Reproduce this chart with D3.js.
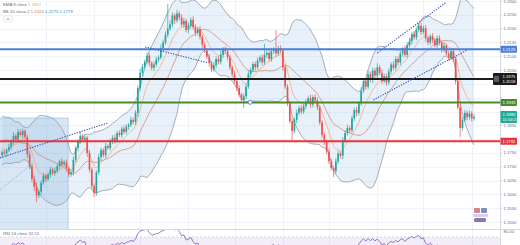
<!DOCTYPE html>
<html>
<head>
<meta charset="utf-8">
<script src="https://cdn.jsdelivr.net/npm/d3@7"></script>
<style>
html, body { margin: 0; padding: 0; background: #fff; overflow: hidden; }
svg { display: block; font-family: "Liberation Sans", Arial, sans-serif; }
</style>
</head>
<body>
<svg id="chart" width="520" height="245"></svg>
<script>
// closes before the first visible candle (only feed the indicators)
const leadIn = [1.1720, 1.1745, 1.1790, 1.1835, 1.1860, 1.1842, 1.1815, 1.1850, 1.1872, 1.1830,
    1.1805, 1.1768, 1.1790, 1.1822, 1.1795, 1.1760, 1.1738, 1.1755, 1.1742];

// daily closes
const closes = [
    1.1752, 1.1748, 1.1760, 1.1771, 1.1790, 1.1812, 1.1798, 1.1826, 1.1815, 1.1830,
    1.1808, 1.1745, 1.1702, 1.1655, 1.1628, 1.1596, 1.1610, 1.1642, 1.1668, 1.1655,
    1.1672, 1.1690, 1.1678, 1.1685, 1.1702, 1.1720, 1.1708, 1.1716, 1.1695, 1.1672,
    1.1680, 1.1725, 1.1768, 1.1790, 1.1812, 1.1798, 1.1805, 1.1750, 1.1690, 1.1630,
    1.1605, 1.1680, 1.1735, 1.1760, 1.1742, 1.1775, 1.1768, 1.1790, 1.1805, 1.1795,
    1.1822, 1.1815, 1.1838, 1.1826, 1.1845, 1.1852, 1.1870, 1.1862, 1.1895, 1.1985,
    1.2040, 1.2062, 1.2080, 1.2102, 1.2075, 1.2058, 1.2070, 1.2088, 1.2095, 1.2130,
    1.2150, 1.2178, 1.2200, 1.2215, 1.2248, 1.2230, 1.2255, 1.2240, 1.2215, 1.2228,
    1.2195, 1.2210, 1.2232, 1.2205, 1.2185, 1.2198, 1.2170, 1.2142, 1.2120, 1.2098,
    1.2075, 1.2052, 1.2068, 1.2090, 1.2080, 1.2105, 1.2125, 1.2118, 1.2096, 1.2060,
    1.2035, 1.2010, 1.1985, 1.1960, 1.1942, 1.1955, 1.1990, 1.2035, 1.2050, 1.2072,
    1.2060, 1.2085, 1.2095, 1.2078, 1.2105, 1.2112, 1.2090, 1.2118, 1.2125, 1.2110,
    1.2128, 1.2120, 1.2060, 1.1990, 1.1930, 1.1865, 1.1830, 1.1870, 1.1895, 1.1912,
    1.1900, 1.1920, 1.1935, 1.1948, 1.1925, 1.1952, 1.1940, 1.1915, 1.1860, 1.1815,
    1.1790, 1.1755, 1.1720, 1.1695, 1.1685, 1.1720, 1.1748, 1.1740, 1.1795, 1.1822,
    1.1840, 1.1832, 1.1875, 1.1905, 1.1895, 1.1930, 1.1975, 1.2010, 1.1990, 1.2035,
    1.2015, 1.2048, 1.2030, 1.2060, 1.2040, 1.2010, 1.2028, 1.2005, 1.2045, 1.2070,
    1.2058, 1.2090, 1.2078, 1.2110, 1.2125, 1.2105, 1.2140, 1.2155, 1.2180, 1.2168,
    1.2195, 1.2210, 1.2188, 1.2202, 1.2165, 1.2150, 1.2172, 1.2158, 1.2140, 1.2165,
    1.2148, 1.2125, 1.2138, 1.2110, 1.2095, 1.2118, 1.2090, 1.2010, 1.1915, 1.1840,
    1.1870, 1.1895, 1.1880, 1.1892, 1.1875, 1.1880
];

// wick lengths above / below the body, in pips
const hiWick = [
    8, 10, 6, 12, 9, 14, 7, 11, 10, 8, 6, 9, 12, 8, 10, 14, 7, 9, 11, 6,
    8, 10, 7, 12, 9, 6, 11, 8, 10, 7, 9, 12, 8, 10, 15, 7, 9, 6, 11, 8,
    10, 7, 12, 9, 8, 11, 6, 10, 9, 12, 8, 10, 7, 11, 9, 6, 12, 8, 10, 9,
    14, 10, 8, 12, 9, 7, 11, 10, 8, 13, 10, 12, 90, 15, 11, 8, 14, 9, 12, 10,
    8, 11, 9, 13, 10, 7, 12, 9, 8, 10, 11, 8, 12, 9, 10, 14, 8, 11, 9, 10,
    7, 12, 9, 10, 8, 11, 9, 12, 10, 8, 9, 11, 8, 12, 40, 10, 9, 11, 8, 70,
    10, 12, 8, 11, 9, 7, 10, 8, 12, 9, 11, 8, 10, 9, 13, 7, 10, 12, 8, 9,
    10, 8, 11, 9, 7, 12, 10, 8, 11, 9, 12, 8, 10, 9, 11, 7, 13, 10, 8, 12,
    9, 11, 10, 14, 8, 12, 9, 10, 11, 8, 12, 10, 9, 11, 8, 13, 10, 12, 9, 11,
    8, 10, 12, 9, 11, 10, 8, 12, 9, 10, 11, 9, 12, 8, 10, 9, 11, 8, 10, 12,
    9, 10, 8, 11, 9, 10
];
const loWick = [
    10, 8, 12, 7, 9, 11, 8, 10, 6, 12, 9, 14, 10, 12, 16, 24, 9, 11, 8, 10,
    7, 12, 9, 10, 8, 11, 9, 7, 12, 10, 8, 11, 9, 12, 7, 10, 8, 14, 11, 9,
    15, 10, 8, 12, 9, 11, 7, 10, 8, 12, 9, 7, 11, 8, 10, 12, 9, 8, 10, 14,
    9, 11, 8, 10, 12, 9, 11, 8, 10, 7, 12, 9, 10, 8, 11, 13, 9, 10, 8, 12,
    9, 11, 10, 8, 12, 9, 10, 11, 8, 9, 12, 10, 8, 11, 9, 10, 12, 8, 11, 9,
    10, 8, 12, 9, 11, 29, 10, 8, 12, 9, 11, 8, 10, 12, 9, 11, 8, 10, 9, 12,
    8, 10, 12, 9, 11, 9, 33, 8, 12, 9, 10, 9, 11, 8, 12, 10, 9, 11, 8, 10,
    12, 9, 10, 8, 22, 11, 9, 10, 12, 8, 9, 11, 8, 10, 12, 9, 10, 8, 11, 9,
    10, 12, 8, 11, 9, 10, 8, 12, 9, 11, 8, 10, 12, 9, 11, 8, 10, 9, 12, 8,
    10, 9, 11, 8, 12, 10, 9, 11, 8, 10, 9, 12, 10, 8, 11, 9, 10, 12, 8, 32,
    10, 8, 12, 9, 11, 8
];

const priceTicks = [1.1500, 1.1550, 1.1600, 1.1650, 1.1700, 1.1750, 1.1800, 1.1850, 1.1900,
    1.1950, 1.2000, 1.2050, 1.2100, 1.2150, 1.2200, 1.2250, 1.2300];
const gridIdx = [19, 40, 60, 81, 101, 122, 142, 163, 183, 204];

// horizontal levels drawn on the chart
const levels = [1.2125, 1.2018, 1.1933, 1.1792];
const levelColors = ["#4a7fdc", "#1b1b1b", "#4b8a2c", "#e8343a"];

// trend lines [index0, price0, index1, price1]
const trendLines = [
    [62.2, 1.2134, 89.6, 1.2076],
    [-0.9, 1.1732, 45.7, 1.1858],
    [163, 1.2112, 192.6, 1.2293],
    [161.3, 1.1942, 202.2, 1.2123]
];
const greyLine = [-0.9, 1.1616, 13.5, 1.1714];
const boxRange = [-1, 28.7, 1.1876, 1.1470];
const marker = [107.8, 1.1933];

const svg = d3.select("#chart");
const W = 520, plotRight = 500, paneBottom = 229;

const x = d3.scaleLinear().domain([0, closes.length - 1]).range([2, 474]);
const y = d3.scaleLinear().domain([1.15, 1.23]).range([222, 1]);
const rsiY = d3.scaleLinear().domain([70, 80]).range([237, 230]);
const fmt = d3.format(".4f");

// indicators
const all = leadIn.concat(closes);
const L = leadIn.length;
const bb = closes.map((c, i) => {
    const win = all.slice(i + L - 19, i + L + 1);
    const m = d3.mean(win);
    const sd = Math.sqrt(d3.mean(win, v => (v - m) * (v - m)));
    return { i, mid: m, up: m + 2 * sd, lo: m - 2 * sd };
});
let e = all[0];
const emaAll = all.map(v => (e = v * 0.2 + e * 0.8));
const ema = closes.map((c, i) => ({ i, v: emaAll[i + L] }));

let ag = 0, al = 0;
const rsiAll = all.map((v, j) => {
    if (j === 0) return null;
    const ch = v - all[j - 1];
    const g = Math.max(ch, 0), l = Math.max(-ch, 0);
    if (j <= 14) { ag += g / 14; al += l / 14; if (j < 14) return null; }
    else { ag = (ag * 13 + g) / 14; al = (al * 13 + l) / 14; }
    return 100 - 100 / (1 + ag / al);
});
const rsi = closes.map((c, i) => ({ i, v: rsiAll[i + L] }));

const candles = closes.map((c, i) => {
    const o = i === 0 ? leadIn[L - 1] : closes[i - 1];
    return { i, o, c, h: Math.max(o, c) + hiWick[i] / 1e4, l: Math.min(o, c) - loWick[i] / 1e4 };
});

const defs = svg.append("defs");
defs.append("clipPath").attr("id", "main")
    .append("rect").attr("width", plotRight).attr("height", paneBottom);
defs.append("clipPath").attr("id", "rsiClip")
    .append("rect").attr("x", 0).attr("y", paneBottom + 1).attr("width", plotRight).attr("height", 20);

// grid
const grid = svg.append("g").attr("stroke", "#f0f3fa").attr("stroke-width", 1);
grid.selectAll(".h").data(priceTicks).join("line")
    .attr("x1", 0).attr("x2", plotRight)
    .attr("y1", d => Math.round(y(d)) + 0.5).attr("y2", d => Math.round(y(d)) + 0.5);
grid.selectAll(".v").data(gridIdx).join("line")
    .attr("x1", d => Math.round(x(d)) + 0.5).attr("x2", d => Math.round(x(d)) + 0.5)
    .attr("y1", 0).attr("y2", 245);

const g = svg.append("g").attr("clip-path", "url(#main)");

// shaded box on the left
g.append("rect")
    .attr("x", x(boxRange[0])).attr("y", y(boxRange[2]))
    .attr("width", x(boxRange[1]) - x(boxRange[0]))
    .attr("height", y(boxRange[3]) - y(boxRange[2]))
    .attr("fill", "rgba(120,170,215,0.28)").attr("stroke", "#a9c8e2").attr("stroke-width", 0.8);

// bollinger bands
g.append("path")
    .attr("fill", "rgba(110,165,215,0.16)")
    .attr("d", d3.area().x(d => x(d.i)).y0(d => y(d.lo)).y1(d => y(d.up))(bb));
const line = key => d3.line().x(d => x(d.i)).y(d => y(d[key]));
g.append("path").attr("fill", "none").attr("stroke", "#8d9ca8").attr("stroke-width", 0.8).attr("d", line("up")(bb));
g.append("path").attr("fill", "none").attr("stroke", "#8d9ca8").attr("stroke-width", 0.8).attr("d", line("lo")(bb));
g.append("path").attr("fill", "none").attr("stroke", "#c98468").attr("stroke-width", 0.7).attr("d", line("mid")(bb));
g.append("path").attr("fill", "none").attr("stroke", "#f3ad78").attr("stroke-width", 0.8).attr("d", line("v")(ema));

// candles
const cg = g.append("g");
cg.selectAll("line").data(candles).join("line")
    .attr("x1", d => x(d.i)).attr("x2", d => x(d.i))
    .attr("y1", d => y(d.h)).attr("y2", d => y(d.l))
    .attr("stroke", d => d.c >= d.o ? "#26a69a" : "#ef5350").attr("stroke-width", 0.7);
cg.selectAll("rect").data(candles).join("rect")
    .attr("x", d => x(d.i) - 0.85).attr("width", 1.7)
    .attr("y", d => y(Math.max(d.o, d.c)))
    .attr("height", d => Math.max(0.7, Math.abs(y(d.o) - y(d.c))))
    .attr("fill", d => d.c >= d.o ? "#26a69a" : "#ef5350");

// horizontal levels
g.selectAll(".lvl").data(levels).join("line")
    .attr("x1", 0).attr("x2", plotRight)
    .attr("y1", d => y(d)).attr("y2", d => y(d))
    .attr("stroke", (d, k) => levelColors[k]).attr("stroke-width", 2);

// trend lines
g.selectAll(".tl").data(trendLines).join("line")
    .attr("x1", d => x(d[0])).attr("y1", d => y(d[1]))
    .attr("x2", d => x(d[2])).attr("y2", d => y(d[3]))
    .attr("stroke", "#3f4fbf").attr("stroke-width", 1.1).attr("stroke-dasharray", "1.3,1.3");
g.append("line")
    .attr("x1", x(greyLine[0])).attr("y1", y(greyLine[1]))
    .attr("x2", x(greyLine[2])).attr("y2", y(greyLine[3]))
    .attr("stroke", "#9aa7b4").attr("stroke-width", 0.8).attr("stroke-dasharray", "1.3,1.3");
g.append("circle").attr("cx", x(marker[0])).attr("cy", y(marker[1])).attr("r", 2)
    .attr("fill", "#fff").attr("stroke", "#4a7fdc").attr("stroke-width", 0.9);

// event flags
const fl = svg.append("g").attr("opacity", 0.85);
fl.append("rect").attr("x", 474).attr("y", 208).attr("width", 6).attr("height", 5).attr("rx", 1).attr("fill", "#d07078");
fl.append("rect").attr("x", 481).attr("y", 208).attr("width", 6).attr("height", 5).attr("rx", 1).attr("fill", "#6a78b8");
fl.append("rect").attr("x", 473).attr("y", 214).attr("width", 15).attr("height", 3).attr("rx", 1).attr("fill", "#cfc6ea");
fl.append("rect").attr("x", 474).attr("y", 218).attr("width", 12).attr("height", 4).attr("rx", 1.5).attr("fill", "#6d62a8");

// price axis
svg.append("line").attr("x1", plotRight + 0.5).attr("x2", plotRight + 0.5).attr("y1", 0).attr("y2", 245)
    .attr("stroke", "#d6d9e0");
svg.append("line").attr("x1", 0).attr("x2", W).attr("y1", paneBottom + 0.5).attr("y2", paneBottom + 0.5)
    .attr("stroke", "#d6d9e0");

// tick labels hidden where a value tag covers them
const tagPrices = levels.concat([closes[closes.length - 1]]);
const freeTicks = priceTicks.filter(t => tagPrices.every(p => Math.abs(y(t) - y(p)) > 6.5));
const ax = svg.append("g").attr("font-size", 4.2).attr("fill", "#6a6d78");
ax.selectAll("text").data(freeTicks).join("text")
    .attr("x", 503.5).attr("y", d => y(d) + 1.5).text(d => fmt(d));
ax.selectAll("line").data(priceTicks).join("line")
    .attr("x1", plotRight).attr("x2", 502.5).attr("y1", d => y(d)).attr("y2", d => y(d))
    .attr("stroke", "#b2b5be").attr("stroke-width", 0.5);

// value tags on the axis
const tag = (price, color, lines, left) => {
    const h = lines.length * 5 + 2, t = svg.append("g");
    t.append("rect").attr("x", left).attr("y", y(price) - h / 2).attr("width", 517 - left)
        .attr("height", h).attr("rx", 0.8).attr("fill", color);
    lines.forEach((s, k) => t.append("text").attr("x", 502.5).attr("y", y(price) - h / 2 + 5 + k * 5)
        .attr("font-size", 4.2).attr("fill", "#fff").text(s));
};
tag(levels[0], levelColors[0], [fmt(levels[0])], 500.5);
tag(levels[1], levelColors[1], ["1.1975", fmt(levels[1])], 493);
svg.append("rect").attr("x", 494).attr("y", y(levels[1]) - 3).attr("width", 5).attr("height", 6)
    .attr("fill", "#555a66");
tag(levels[2], levelColors[2], [fmt(levels[2])], 500.5);
tag(closes[closes.length - 1], "#22ab94", [fmt(closes[closes.length - 1]), "11:54:23"], 500.5);
tag(levels[3], levelColors[3], [fmt(levels[3])], 500.5);

// legend
const last = bb[bb.length - 1];
const leg = svg.append("g").attr("font-size", 4.3);
const l1 = leg.append("text").attr("x", 3).attr("y", 6);
l1.append("tspan").attr("fill", "#6a6d78").text("EMA 9 close ");
l1.append("tspan").attr("fill", "#f39a4c").text(fmt(ema[ema.length - 1].v));
const l2 = leg.append("text").attr("x", 3).attr("y", 13);
l2.append("tspan").attr("fill", "#6a6d78").text("BB 20 close 2 ");
l2.append("tspan").attr("fill", "#e07b4c").text(fmt(last.mid) + " ");
l2.append("tspan").attr("fill", "#2e8fb0").text(fmt(last.up) + " ");
l2.append("tspan").attr("fill", "#2e8fb0").text(fmt(last.lo));
leg.append("rect").attr("x", 4).attr("y", 16).attr("width", 8).attr("height", 6).attr("rx", 1)
    .attr("fill", "#fff").attr("stroke", "#d6d9e0").attr("stroke-width", 0.6);
leg.append("path").attr("d", "M6.5,20 L8,18.3 L9.5,20").attr("fill", "none")
    .attr("stroke", "#6a6d78").attr("stroke-width", 0.6);

// RSI pane
svg.append("rect").attr("x", 0).attr("y", rsiY(70)).attr("width", plotRight).attr("height", 245 - rsiY(70))
    .attr("fill", "rgba(126,87,194,0.1)");
svg.append("line").attr("x1", 0).attr("x2", plotRight).attr("y1", rsiY(70)).attr("y2", rsiY(70))
    .attr("stroke", "#b2b5be").attr("stroke-width", 0.5).attr("stroke-dasharray", "2,2");
svg.append("path").attr("clip-path", "url(#rsiClip)").attr("fill", "none").attr("stroke", "#7e57c2")
    .attr("stroke-width", 0.8).attr("d", d3.line().defined(d => d.v != null).x(d => x(d.i)).y(d => rsiY(d.v))(rsi));
svg.append("text").attr("x", 503.5).attr("y", rsiY(80) + 3).attr("font-size", 4.2)
    .attr("fill", "#6a6d78").text("80.00");
const l3 = svg.append("text").attr("x", 3).attr("y", 235).attr("font-size", 4.3);
l3.append("tspan").attr("fill", "#6a6d78").text("RSI 14 close ");
l3.append("tspan").attr("fill", "#7e57c2").text(d3.format(".2f")(rsi[rsi.length - 1].v));
</script>
</body>
</html>
